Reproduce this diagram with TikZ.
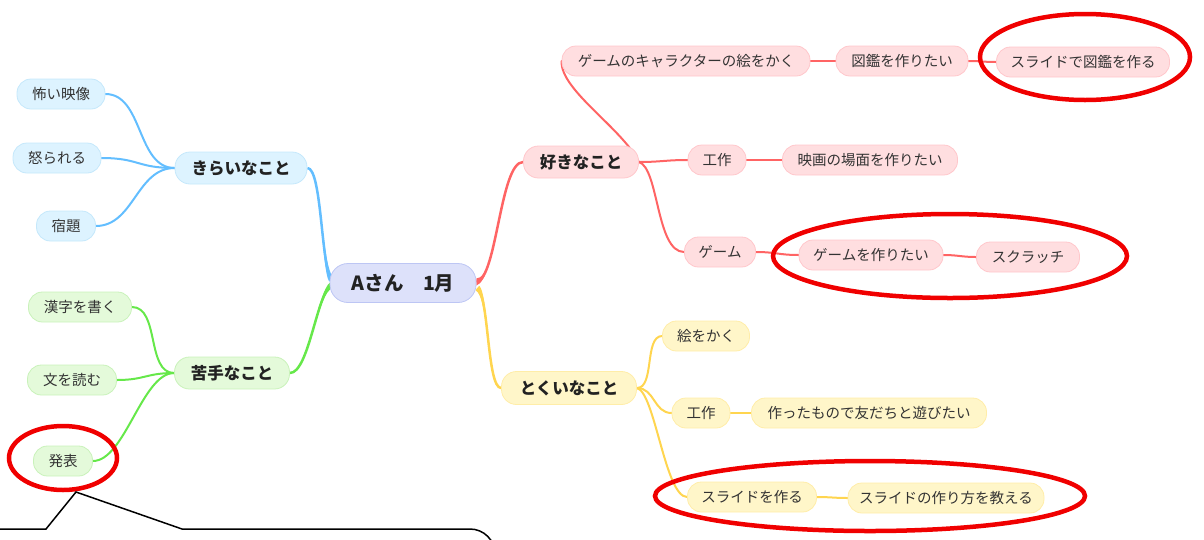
\documentclass[tikz,border=0pt]{standalone}
\usepackage{fontspec}
\newfontfamily\jp{Noto Sans CJK JP}
\usetikzlibrary{calc}
\definecolor{txt}{HTML}{333333}
\definecolor{txtb}{HTML}{222222}
\definecolor{bline}{HTML}{63BEFF}
\definecolor{bfill}{HTML}{DDF3FF}
\definecolor{bdraw}{HTML}{C5E8FB}
\definecolor{gline}{HTML}{66E84A}
\definecolor{gfill}{HTML}{E4FADA}
\definecolor{gdraw}{HTML}{C9F2BA}
\definecolor{rootfill}{HTML}{DDE1FA}
\definecolor{rootdraw}{HTML}{BDC6F4}
\definecolor{rline}{HTML}{FF6464}
\definecolor{rfill}{HTML}{FFDEE0}
\definecolor{rdraw}{HTML}{FFC7CB}
\definecolor{yline}{HTML}{FFD54F}
\definecolor{yfill}{HTML}{FFF6C9}
\definecolor{ydraw}{HTML}{FFEDA8}
\definecolor{ring}{HTML}{F00000}
\pgfdeclarelayer{background}
\pgfsetlayers{background,main}
\newcommand\mmtaper[6]{%
  \fill[#5] ($(#1)+(#6)$) .. controls (#2) and (#3) .. (#4) .. controls (#3) and (#2) .. ($(#1)-(#6)$) -- cycle;
  \draw[#5,line width=2.5] (#1) .. controls (#2) and (#3) .. (#4);
}
\tikzset{
  box/.style={rectangle, rounded corners=14, draw, line width=0.8, minimum height=30, inner xsep=0, inner ysep=0, font=\jp\fontsize{14.5}{16}\selectfont, text=txt},
  parent/.style={font=\jp\bfseries\fontsize{16.5}{18}\selectfont, minimum height=32, rounded corners=15, text=txtb},
  bleaf/.style={box, fill=bfill, draw=bdraw},
  gleaf/.style={box, fill=gfill, draw=gdraw},
  rleaf/.style={box, fill=rfill, draw=rdraw},
  yleaf/.style={box, fill=yfill, draw=ydraw},
  rootbox/.style={box, fill=rootfill, draw=rootdraw, font=\jp\bfseries\fontsize{19.5}{21}\selectfont, minimum height=39, rounded corners=18, text=txtb},
  link/.style={line width=2, line cap=round},
  ringline/.style={draw=ring, line width=4.5},
  callout/.style={draw=black, line width=1.5, line join=miter},
}
\begin{document}
\begin{tikzpicture}[x=1pt,y=-1pt]
\useasboundingbox (0,0) rectangle (1204,539);

% root
\node[rootbox, minimum width=146] (root) at (403,283) {Aさん　1月};

% blue
\node[bleaf, parent, minimum width=132] (kirai) at (241,168) {きらいなこと};
\node[bleaf, minimum width=88] (kowai) at (61,94) {怖い映像};
\node[bleaf, minimum width=88] (okora) at (57,158) {怒られる};
\node[bleaf, minimum width=59] (shuku) at (66,226) {宿題};

% green
\node[gleaf, parent, minimum width=115] (nigate) at (232,373) {苦手なこと};
\node[gleaf, minimum width=103] (kanji) at (80,307) {漢字を書く};
\node[gleaf, minimum width=89] (bun) at (72,380) {文を読む};
\node[gleaf, minimum width=59] (happy) at (63,461) {発表};

% red
\node[rleaf, parent, minimum width=115] (suki) at (581,162) {好きなこと};
\node[rleaf, minimum width=248] (chara) at (686,61) {ゲームのキャラクターの絵をかく};
\node[rleaf, minimum width=132] (zukan) at (902,61) {図鑑を作りたい};
\node[rleaf, minimum width=173] (slidezukan) at (1083,62) {スライドで図鑑を作る};
\node[rleaf, minimum width=58] (kousakuA) at (717,160) {工作};
\node[rleaf, minimum width=175] (eiga) at (870,160) {映画の場面を作りたい};
\node[rleaf, minimum width=71] (game) at (720,252) {ゲーム};
\node[rleaf, minimum width=144] (gamemake) at (871,255) {ゲームを作りたい};
\node[rleaf, minimum width=103] (scratch) at (1028,257) {スクラッチ};

% yellow
\node[yleaf, parent, minimum width=135, minimum height=33] (tokui) at (569,388) {とくいなこと};
\node[yleaf, minimum width=87] (e) at (706,336) {絵をかく};
\node[yleaf, minimum width=58] (kousakuB) at (701,413) {工作};
\node[yleaf, minimum width=235] (tomo) at (869,413) {作ったもので友だちと遊びたい};
\node[yleaf, minimum width=129] (slide) at (752,497) {スライドを作る};
\node[yleaf, minimum width=196] (oshie) at (946,498) {スライドの作り方を教える};

\begin{pgfonlayer}{background}
  % main branches (tapered)
  \mmtaper{$(root.west)+(2,-3)$}{321,268}{322,168}{kirai.east}{bline}{2.5,-1.5}
  \mmtaper{$(root.west)+(2,2)$}{317,292}{309,373}{nigate.east}{gline}{1.5,2.6}
  \mmtaper{$(root.east)+(0,-1)$}{497,279}{500,162}{suki.west}{rline}{0,3.5}
  \mmtaper{$(root.east)+(1,5)$}{489,296}{487,388}{tokui.west}{yline}{-1.9,2.3}

  % blue leaves
  \draw[link, bline] (kirai.west) .. controls +(-38,0) and +(38,0) .. (kowai.east);
  \draw[link, bline] (kirai.west) .. controls +(-38,0) and +(38,0) .. (okora.east);
  \draw[link, bline] (kirai.west) .. controls +(-38,0) and +(38,0) .. (shuku.east);

  % green leaves
  \draw[link, gline] (nigate.west) .. controls +(-28,0) and +(28,0) .. (kanji.east);
  \draw[link, gline] (nigate.west) .. controls +(-28,0) and +(28,0) .. (bun.east);
  \draw[link, gline] (nigate.west) .. controls +(-32,0) and +(32,0) .. (happy.east);

  % red
  \draw[link, rline] (suki.east) .. controls (622,128) and (560,90) .. (chara.west);
  \draw[link, rline] (suki.east) .. controls +(22,0) and +(-22,0) .. (kousakuA.west);
  \draw[link, rline] (suki.east) .. controls +(20,6) and +(-28,0) .. (game.west);
  \draw[link, rline] (chara.east) .. controls +(12,0) and +(-12,0) .. (zukan.west);
  \draw[link, rline] (zukan.east) .. controls +(12,0) and +(-12,0) .. (slidezukan.west);
  \draw[link, rline] (kousakuA.east) .. controls +(15,0) and +(-15,0) .. (eiga.west);
  \draw[link, rline] (game.east) .. controls +(20,0) and +(-20,0) .. (gamemake.west);
  \draw[link, rline] (gamemake.east) .. controls +(15,0) and +(-15,0) .. (scratch.west);

  % yellow
  \draw[link, yline] (tokui.east) .. controls +(18,0) and +(-18,0) .. (e.west);
  \draw[link, yline] (tokui.east) .. controls +(18,0) and +(-18,0) .. (kousakuB.west);
  \draw[link, yline] (tokui.east) .. controls +(18,4) and +(-22,0) .. (slide.west);
  \draw[link, yline] (kousakuB.east) .. controls +(10,0) and +(-10,0) .. (tomo.west);
  \draw[link, yline] (slide.east) .. controls +(14,0) and +(-14,0) .. (oshie.west);
\end{pgfonlayer}

% red rings
\draw[ringline] (1085,57) ellipse [x radius=105, y radius=43];
\draw[ringline] (950,256) ellipse [x radius=177, y radius=42];
\draw[ringline] (870,496) ellipse [x radius=215, y radius=35];
\draw[ringline] (63,458) ellipse [x radius=54, y radius=32];

% callout outline
\coordinate (cA) at (0,529);
\coordinate (cB) at (46,529);
\coordinate (cTip) at (76,492);
\coordinate (cC) at (182,529);
\coordinate (cD) at (495,529);
\coordinate (cE) at (495,580);
\draw[callout] (cA) -- (cB) -- (cTip) -- (cC) [rounded corners=25] -- (cD) -- (cE);
\end{tikzpicture}
\end{document}
